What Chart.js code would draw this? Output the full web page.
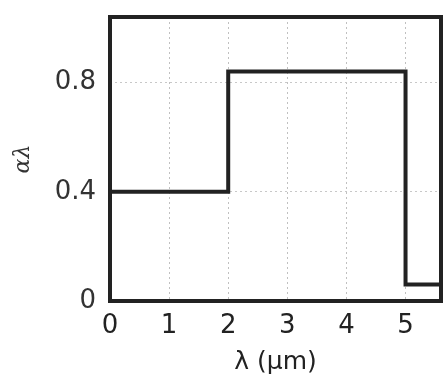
<!DOCTYPE html>
<html>
<head>
<meta charset="utf-8">
<script src="https://cdn.jsdelivr.net/npm/chart.js@4"></script>
<style>
  body { margin: 0; background: #fff; }
  #wrap { width: 447px; height: 380px; }
</style>
</head>
<body>
<div id="wrap"><canvas id="alphaChart"></canvas></div>
<script>
// spectral absorptivity, step function
const lambdaPts = [0, 2, 5, 5.6];
const alphaPts = [0.4, 0.84, 0.06, 0.06];
const xTicks = [0, 1, 2, 3, 4, 5];
const yTicks = [0, 0.4, 0.8];

const ink = "#222";

// thick box round the plot area
const frame = {
    id: "frame",
    beforeDatasetsDraw(chart) {
        const a = chart.chartArea;
        const ctx = chart.ctx;
        ctx.save();
        ctx.strokeStyle = ink;
        ctx.lineWidth = 4;
        ctx.strokeRect(a.left, a.top, a.right - a.left, a.bottom - a.top);
        ctx.restore();
    }
};

const ctx = document.getElementById("alphaChart").getContext("2d");
new Chart(ctx, {
    type: "line",
    data: {
        datasets: [{
            data: lambdaPts.map((x, i) => ({ x: x, y: alphaPts[i] })),
            borderColor: ink,
            borderWidth: 4,
            stepped: "before",
            pointRadius: 0,
            fill: false
        }]
    },
    options: {
        responsive: true,
        maintainAspectRatio: false,
        animation: false,
        layout: { padding: { left: 0, right: 6, top: 17, bottom: 0 } },
        plugins: { legend: { display: false }, tooltip: { enabled: false } },
        scales: {
            x: {
                type: "linear",
                min: 0,
                max: 5.6,
                afterBuildTicks: s => { s.ticks = xTicks.map(v => ({ value: v })); },
                afterFit: s => { s.height = 79; },
                grid: {
                    color: c => c.tick && c.tick.value === 0 ? "transparent" : "#c0c0c0",
                    lineWidth: 1,
                    drawTicks: false
                },
                border: { display: false, dash: [2, 3] },
                ticks: {
                    color: ink,
                    padding: 10,
                    maxRotation: 0,
                    font: { family: "DejaVu Sans", size: 26 }
                },
                title: {
                    display: true,
                    text: "λ (μm)",
                    color: ink,
                    padding: { top: 0, bottom: 3 },
                    font: { family: "DejaVu Sans", size: 25 }
                }
            },
            y: {
                type: "linear",
                min: 0,
                max: 1.04,
                afterBuildTicks: s => { s.ticks = yTicks.map(v => ({ value: v })); },
                afterFit: s => { s.width = 110; s.paddingTop = 0; s.paddingBottom = 0; },
                grid: {
                    color: c => c.tick && c.tick.value === 0 ? "transparent" : "#c8c8c8",
                    lineWidth: 1,
                    drawTicks: false
                },
                border: { display: false, dash: [2, 3] },
                ticks: {
                    color: "#333",
                    padding: 14,
                    callback: v => String(v),
                    font: { family: "DejaVu Sans", size: 26 }
                },
                title: {
                    display: true,
                    text: "αλ",
                    color: "#333",
                    padding: { top: 10, bottom: 0 },
                    font: { family: "DejaVu Serif", size: 22, style: "italic" }
                }
            }
        }
    },
    plugins: [frame]
});
</script>
</body>
</html>
